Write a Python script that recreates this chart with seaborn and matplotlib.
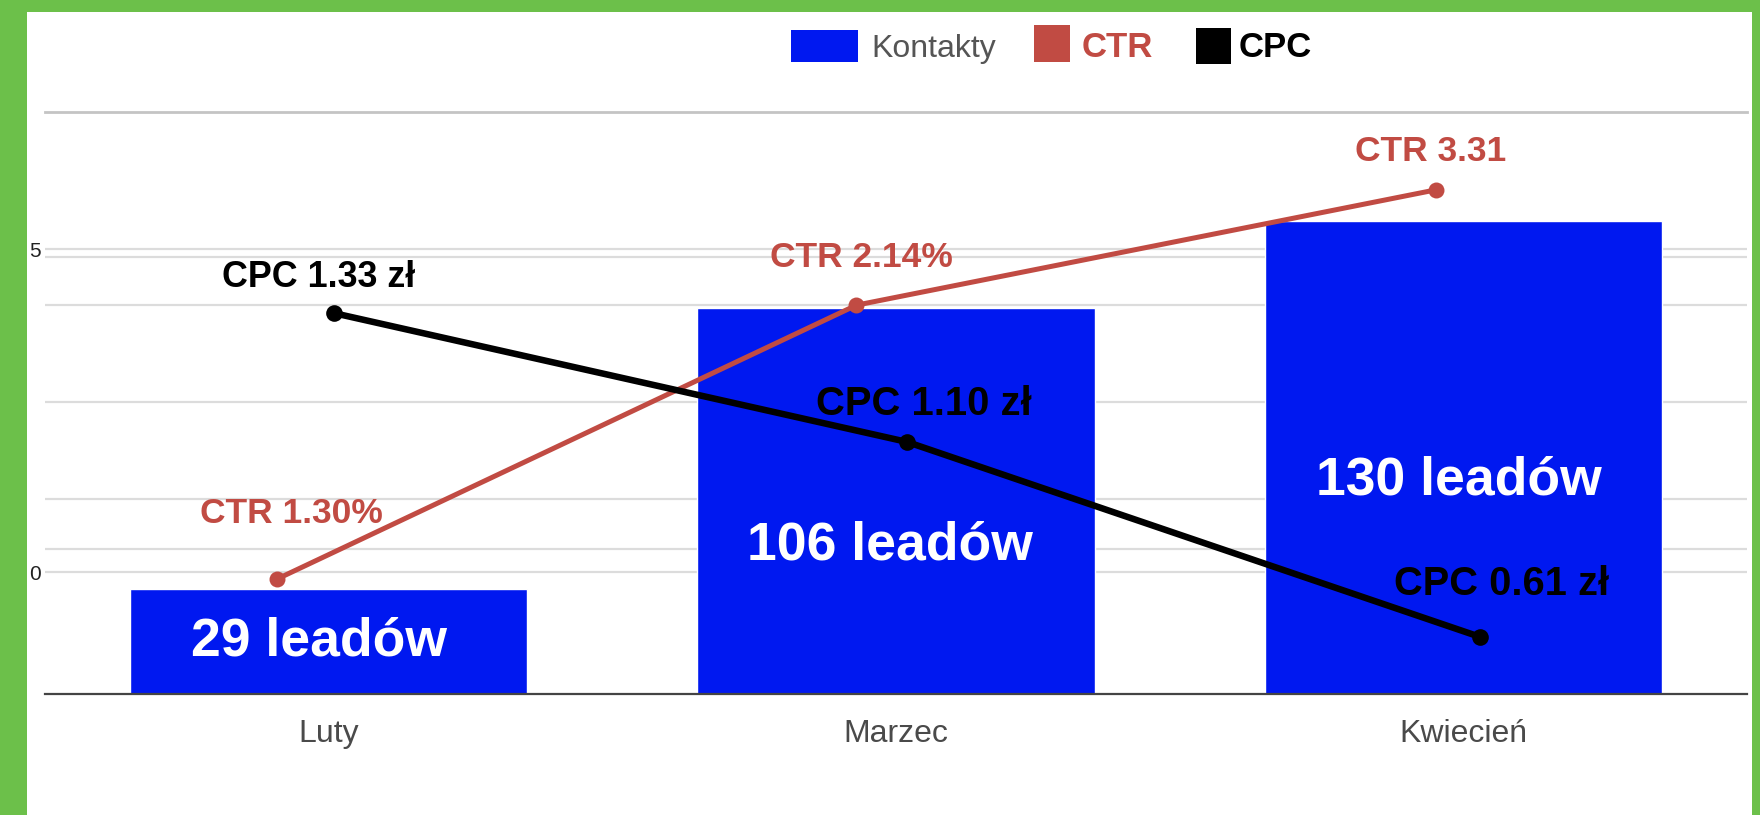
import matplotlib
matplotlib.use("Agg")
import matplotlib.pyplot as plt
import seaborn as sns
import pandas as pd
from matplotlib.patches import Rectangle

# data
months = ["Luty", "Marzec", "Kwiecień"]
leads = [29, 106, 130]
lead_labels = ["29 leadów", "106 leadów", "130 leadów"]

ctr_labels = ["CTR 1.30%", "CTR 2.14%", "CTR 3.31"]
ctr_height = [31.6, 106.9, 138.6]   # line height as drawn (bar scale)
cpc_labels = ["CPC 1.33 zł", "CPC 1.10 zł", "CPC 0.61 zł"]
cpc_height = [104.7, 69.3, 15.7]

grid_levels = [33.5, 39.9, 53.6, 80.3, 106.9, 120.1, 122.3]
ytick_text = {122.3: "5", 33.5: "0"}

BLUE = "#0018f0"
RED = "#c14b43"
GREEN = "#6cc04a"

sns.set_theme(style="white")
plt.rcParams["font.family"] = ["Liberation Sans", "DejaVu Sans"]

W, H = 1760, 815
fig = plt.figure(figsize=(W / 100, H / 100), dpi=100)
fig.patch.set_facecolor(GREEN)
fig.add_artist(Rectangle((27 / W, 0), (1752 - 27) / W, (815 - 12) / H,
                         transform=fig.transFigure, facecolor="white",
                         edgecolor="none", zorder=-10))

ax = fig.add_axes([45 / W, (H - 694) / H, (1747 - 45) / W, (694 - 112) / H])
ax.set_facecolor("none")

df = pd.DataFrame({"month": months, "leads": leads})
sns.barplot(data=df, x="month", y="leads", color=BLUE, saturation=1,
            width=0.7, ax=ax, zorder=2)
ax.set_xlim(-0.5, 2.5)
ax.set_ylim(0, 160)
ax.set_xlabel("")
ax.set_ylabel("")

ax.set_yticks(grid_levels)
ax.set_yticklabels([ytick_text.get(v, "") for v in grid_levels])
ax.yaxis.grid(True, color="#dcdcdc", linewidth=1.6, zorder=0)
ax.tick_params(axis="y", length=0, pad=3, labelsize=15, labelcolor="#222222")
ax.tick_params(axis="x", length=0, pad=18, labelsize=23, labelcolor="#4a4a4a")
for s in ["left", "right"]:
    ax.spines[s].set_visible(False)
ax.spines["top"].set_color("#c4c4c4")
ax.spines["top"].set_linewidth(2)
ax.spines["bottom"].set_color("#444444")
ax.spines["bottom"].set_linewidth(1.6)

# bar labels
label_x = [-0.017, 0.989, 1.992]
label_y = [14.3, 40.8, 58.7]
for i, txt in enumerate(lead_labels):
    ax.text(label_x[i], label_y[i], txt, color="white", fontsize=38.5,
            fontweight="bold", ha="center", va="center", zorder=3)

# CTR line
ax_ctr = ax.twiny()
sns.lineplot(x=[0, 1, 2], y=ctr_height, ax=ax_ctr, color=RED, linewidth=3.6,
             marker="o", markersize=11.5, markeredgewidth=0)
ax_ctr.set_xlim(-0.4003, 2.5367)
ctr_off = [(14, 66), (5, 48), (-5, 38)]
for i, txt in enumerate(ctr_labels):
    ax_ctr.annotate(txt, (i, ctr_height[i]), xytext=ctr_off[i],
                    textcoords="offset pixels", ha="center", va="center",
                    color=RED, fontsize=25.5, fontweight="bold")

# CPC line
ax_cpc = ax.twiny()
sns.lineplot(x=[0, 1, 2], y=cpc_height, ax=ax_cpc, color="black", linewidth=4.7,
             marker="o", markersize=12, markeredgewidth=0)
ax_cpc.set_xlim(-0.5044, 2.466)
cpc_off = [(-15, 36), (17, 38), (22, 53)]
cpc_size = [25.8, 28.8, 28.7]
for i, txt in enumerate(cpc_labels):
    ax_cpc.annotate(txt, (i, cpc_height[i]), xytext=cpc_off[i],
                    textcoords="offset pixels", ha="center", va="center",
                    color="black", fontsize=cpc_size[i], fontweight="bold")

for a in (ax_ctr, ax_cpc):
    a.set_ylim(0, 160)
    a.set_xticks([])
    a.set_xlabel("")
    a.set_ylabel("")
    for s in a.spines.values():
        s.set_visible(False)

# legend drawn by hand
def fig_rect(x0, y0, x1, y1, color):
    fig.add_artist(Rectangle((x0 / W, (H - y1) / H), (x1 - x0) / W, (y1 - y0) / H,
                             transform=fig.transFigure, facecolor=color,
                             edgecolor="none"))

fig_rect(791, 30, 858, 62, BLUE)
fig.text(871 / W, (H - 57) / H, "Kontakty", fontsize=23, color="#555555",
         va="baseline")
fig_rect(1034, 25, 1070, 62, RED)
fig.text(1082 / W, (H - 57) / H, "CTR", fontsize=25, color=RED,
         fontweight="bold", va="baseline")
fig_rect(1196, 28, 1231, 64, "black")
fig.text(1239 / W, (H - 57) / H, "CPC", fontsize=25, color="black",
         fontweight="bold", va="baseline")

fig.savefig("out.png", dpi=100, facecolor=fig.get_facecolor())
